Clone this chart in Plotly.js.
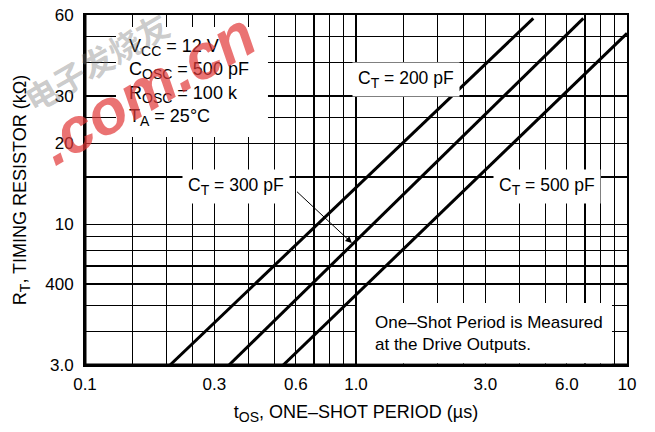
<!DOCTYPE html>
<html>
<head>
<meta charset="utf-8">
<script src="https://cdn.plot.ly/plotly-3.0.1.min.js"></script>
<style>html,body{margin:0;padding:0;background:#fff;}#chart{width:655px;height:432px;}</style>
</head>
<body>
<div id="chart"></div>
<script>
// ---- data ----
const sub = s => "<sub><span style=\"font-size:14px\">" + s + "</span></sub>";
const seriesNames = ["C" + sub("T") + " = 200 pF", "C" + sub("T") + " = 300 pF", "C" + sub("T") + " = 500 pF"];
const ct200_t = [0.206, 4.51];   // one-shot period (µs)
const ct200_r = [3.0, 58.3];     // timing resistor (kΩ)
const ct300_t = [0.340, 6.90];
const ct300_r = [3.0, 58.3];
const ct500_t = [0.539, 10.0];
const ct500_r = [3.0, 51.3];

const xLabelVals = [0.1, 0.3, 0.6, 1, 3, 6, 10];
const xLabelText = ["0.1", "0.3", "0.6", "1.0", "3.0", "6.0", "10"];
const xGridVals  = [0.15, 0.2, 0.25, 0.4, 0.5, 0.7, 0.8, 0.9, 1.5, 2, 2.5, 4, 5, 7, 8, 9];
const yLabelVals = [3, 6, 10, 20, 30, 60];
const yLabelText = ["3.0", "400", "10", "20", "30", "60"];
const yGridVals  = [4, 5, 7, 8, 9, 15, 25, 40, 50];

const FONT = "Liberation Sans, Arial, Helvetica, sans-serif";

const traces = [
  {x: ct200_t, y: ct200_r, name: seriesNames[0]},
  {x: ct300_t, y: ct300_r, name: seriesNames[1]},
  {x: ct500_t, y: ct500_r, name: seriesNames[2]}
].map(t => Object.assign(t, {
  type: "scatter", mode: "lines", showlegend: false, hoverinfo: "skip",
  line: {color: "#000", width: 3}
}));

const layout = {
  width: 655, height: 432,
  margin: {l: 85, r: 28, t: 15, b: 67, pad: 0},
  paper_bgcolor: "#fff", plot_bgcolor: "#fff",
  font: {family: FONT, size: 17, color: "#000"},
  showlegend: false,
  xaxis: {
    type: "log", range: [Math.log10(0.1), Math.log10(10)],
    tickmode: "array", tickvals: xLabelVals, ticktext: xLabelText, ticks: "",
    ticklabelstandoff: 3,
    showgrid: true, gridcolor: "#000", gridwidth: 1.2,
    minor: {tickmode: "array", tickvals: xGridVals, showgrid: true, gridcolor: "#000", gridwidth: 1.2, ticks: ""},
    showline: true, mirror: true, linecolor: "#000", linewidth: 2,
    zeroline: false, tickfont: {size: 17},
    title: {text: "t" + sub("OS") + ", ONE\u2013SHOT PERIOD (\u00b5s)", font: {size: 18}, standoff: 12}
  },
  yaxis: {
    type: "log", range: [Math.log10(3), Math.log10(60)],
    tickmode: "array", tickvals: yLabelVals, ticktext: yLabelText, ticks: "",
    ticklabelstandoff: 6,
    showgrid: true, gridcolor: "#000", gridwidth: 1.2,
    minor: {tickmode: "array", tickvals: yGridVals, showgrid: true, gridcolor: "#000", gridwidth: 1.2, ticks: ""},
    showline: true, mirror: true, linecolor: "#000", linewidth: 2,
    zeroline: false, tickfont: {size: 17},
    title: {text: "R" + sub("T") + ", TIMING RESISTOR (k\u03a9)", font: {size: 18}, standoff: 14}
  },
  shapes: [
    // thicker left & bottom axis
    {type: "line", xref: "paper", yref: "paper", x0: 0, x1: 0, y0: 0, y1: 1, line: {color: "#000", width: 3}, layer: "above"},
    {type: "line", xref: "paper", yref: "paper", x0: 0, x1: 1, y0: 0, y1: 0, line: {color: "#000", width: 3}, layer: "above"},
    // white boxes behind notes
    {type: "rect", xref: "paper", yref: "paper", x0: 0.0572, x1: 0.3376, y0: 0.6514, y1: 0.9657, fillcolor: "#fff", line: {width: 0}, layer: "above"},
    {type: "rect", xref: "paper", yref: "paper", x0: 0.5018, x1: 0.9723, y0: 0.005, y1: 0.1771, fillcolor: "#fff", line: {width: 0}, layer: "above"}
  ],
  annotations: [
    {xref: "paper", yref: "paper", x: 0.0775, y: 0.807, xanchor: "left", yanchor: "middle", align: "left", showarrow: false,
     font: {size: 18, color: "#000"},
     text: "V" + sub("CC") + " = 12 V<br>C" + sub("OSC") + " = 500 pF<br>R" + sub("OSC") + " = 100 k<br>T" + sub("A") + " = 25\u00b0C"},
    {xref: "paper", yref: "paper", x: 0.5314, y: 0.0886, xanchor: "left", yanchor: "middle", align: "left", showarrow: false,
     font: {size: 17, color: "#000"},
     text: "One\u2013Shot Period is Measured<br>at the Drive Outputs."},
    {xref: "paper", yref: "paper", x: 0.5923, y: 0.8143, xanchor: "center", yanchor: "middle", showarrow: false,
     bgcolor: "#fff", borderpad: 5, font: {size: 17.5}, text: seriesNames[0]},
    {xref: "paper", yref: "paper", x: 0.2786, y: 0.5114, xanchor: "center", yanchor: "middle", showarrow: false,
     bgcolor: "#fff", borderpad: 5, font: {size: 17.5}, text: seriesNames[1]},
    {xref: "paper", yref: "paper", x: 0.8524, y: 0.5114, xanchor: "center", yanchor: "middle", showarrow: false,
     bgcolor: "#fff", borderpad: 5, font: {size: 17.5}, text: seriesNames[2]},
    // arrow from the 300 pF label to its curve
    {xref: "x", yref: "y", axref: "x", ayref: "y",
     x: Math.log10(0.966), y: Math.log10(8.52), ax: -0.2325, ay: 1.1351,
     text: " ", showarrow: true, arrowhead: 2, arrowsize: 1.3, arrowwidth: 1, arrowcolor: "#000", standoff: 0},
    // watermark
    {xref: "paper", yref: "paper", x: 0.02, y: 0.87, xanchor: "center", yanchor: "middle", showarrow: false,
     textangle: -30, font: {family: "Noto Sans CJK SC", size: 32, color: "rgba(120,120,120,0.4)", weight: 700},
     text: "电子发烧友"},
    {xref: "paper", yref: "paper", x: 0.115, y: 0.79, xanchor: "center", yanchor: "middle", showarrow: false,
     textangle: -30, font: {family: FONT, size: 63, color: "rgba(225,55,55,0.7)", weight: 700, style: "italic"},
     text: ".com.cn"}
  ]
};

Plotly.newPlot("chart", traces, layout, {staticPlot: true, displayModeBar: false});
</script>
</body>
</html>
